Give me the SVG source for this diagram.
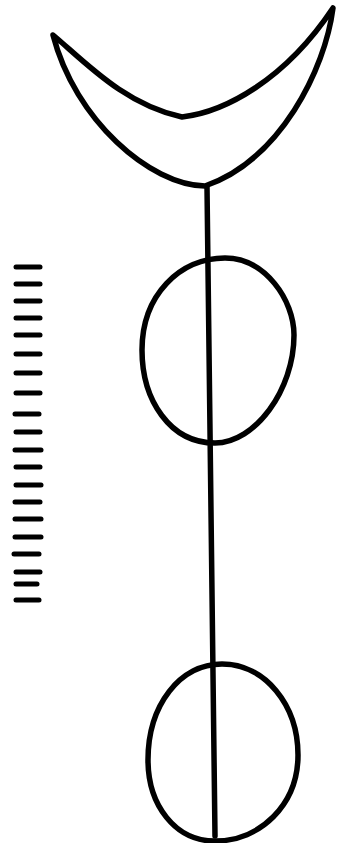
<svg xmlns="http://www.w3.org/2000/svg" width="337" height="843" viewBox="0 0 337 843">
<style>
.ink{fill:none;stroke:#000;stroke-width:5.5;stroke-linejoin:round;stroke-linecap:round}
.dash{stroke:#000;stroke-width:5;stroke-linecap:round}
</style>
<rect width="337" height="843" fill="#fff"/>
<g id="crescent">
<path class="ink" d="M53,35 C85,62 125,105 182,117 C225,112 285,80 333,8 C325,70 280,160 205,186 C150,185 75,120 53,35 Z"/>
</g>
<g id="circle-upper">
<path class="ink" d="M225,258 C265,258 294,300 294,335 C294,390 255,443 215,443 C170,443 142,400 142,350 C142,295 180,258 225,258 Z"/>
</g>
<g id="circle-lower">
<path class="ink" d="M222,664 C265,664 298,705 298,755 C298,805 260,841 215,841 C175,841 148,805 148,760 C148,705 180,664 222,664 Z"/>
</g>
<g id="connectors">
<path class="ink" d="M207,187 L215,836"/>
</g>
<g id="scale">
<line class="dash" x1="16" y1="267" x2="40" y2="267"/>
<line class="dash" x1="16" y1="284" x2="40" y2="284"/>
<line class="dash" x1="16" y1="301" x2="40" y2="301"/>
<line class="dash" x1="16" y1="318" x2="40" y2="318"/>
<line class="dash" x1="16" y1="335" x2="40" y2="335"/>
<line class="dash" x1="16" y1="354" x2="40" y2="354"/>
<line class="dash" x1="16" y1="373" x2="40" y2="373"/>
<line class="dash" x1="16" y1="393" x2="40" y2="393"/>
<line class="dash" x1="15" y1="414" x2="39" y2="414"/>
<line class="dash" x1="16" y1="432" x2="40" y2="432"/>
<line class="dash" x1="15" y1="450" x2="41" y2="450"/>
<line class="dash" x1="16" y1="467" x2="40" y2="467"/>
<line class="dash" x1="16" y1="485" x2="41" y2="485"/>
<line class="dash" x1="15" y1="502" x2="40" y2="502"/>
<line class="dash" x1="15" y1="519" x2="41" y2="519"/>
<line class="dash" x1="15" y1="537" x2="41" y2="537"/>
<line class="dash" x1="14" y1="554" x2="39" y2="554"/>
<line class="dash" x1="16" y1="572" x2="40" y2="572"/>
<line class="dash" x1="16" y1="584" x2="37" y2="584"/>
<line class="dash" x1="16" y1="600" x2="39" y2="600"/>
</g>
</svg>
